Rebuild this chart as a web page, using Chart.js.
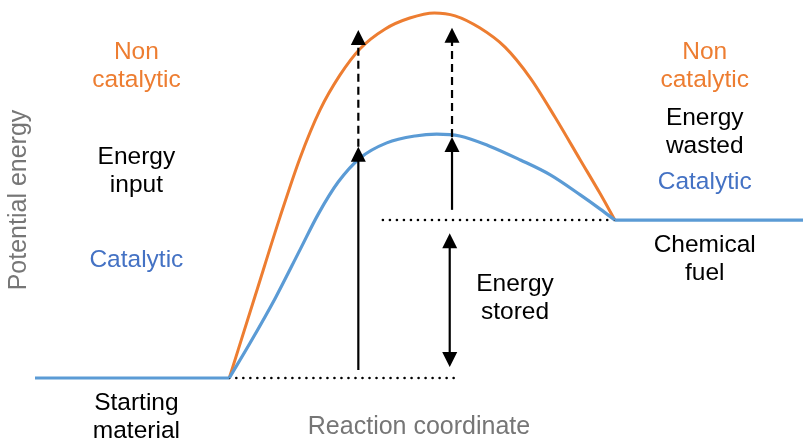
<!DOCTYPE html>
<html><head><meta charset="utf-8">
<script src="https://cdn.jsdelivr.net/npm/chart.js@4.4.1/dist/chart.umd.min.js"></script>
<style>html,body{margin:0;padding:0;background:#fff;overflow:hidden}#wrap{width:803px;height:440px;position:relative}</style>
</head><body><div id="wrap"><canvas id="c"></canvas></div>
<script>
// ---- data (reaction coordinate 0..100, potential energy in relative units) ----
const startLevel = 0;          // starting material energy
const fuelLevel = 43.4;        // chemical fuel energy
const reactionStartX = 25.3;
const reactionEndX = 75.5;
const coordEnd = 100;

const catalyticX = [25.3, 28.0, 31.3, 34.5, 36.9, 39.5, 42.3, 45.8, 49.5, 52.3, 55.3, 59.2, 63.2, 67.1, 71.0, 73.6, 75.5];
const catalyticE = [0.0, 9.6, 22.0, 35.2, 45.1, 53.9, 60.4, 64.6, 66.5, 67.0, 66.5, 63.7, 59.9, 55.8, 50.3, 46.4, 43.4];

const nonCatalyticX = [25.3, 28.7, 31.9, 34.5, 37.1, 39.7, 42.3, 45.6, 48.8, 52.0, 54.7, 57.9, 61.2, 64.5, 67.7, 71.0, 73.6, 75.5];
const nonCatalyticE = [0.0, 22.8, 44.2, 60.4, 73.6, 83.2, 90.4, 95.9, 98.9, 100.3, 99.5, 96.2, 90.9, 82.4, 71.7, 59.9, 50.6, 43.4];

const storedLineEndX = 55.3;   // dotted guide at starting level ends here
const fuelLineStartX = 45.3;   // dotted guide at fuel level starts here

// arrows: x, solid from -> to, dashed from -> to
const inputArrowX = 42.1, inputSolid = [2.2, 63.5], inputDashed = [63.5, 95.6];
const wastedArrowX = 54.3, wastedSolid = [46.2, 66.2], wastedDashed = [66.2, 96.2];
const storedArrowX = 54.0, storedRange = [3.0, 39.8];

// text labels
const labelLines = [["Non","catalytic"],["Energy","input"],["Catalytic"],["Starting","material"],
                    ["Non","catalytic"],["Energy","wasted"],["Catalytic"],["Chemical","fuel"],["Energy","stored"]];
const labelX = [13.2, 13.2, 13.2, 13.2, 87.2, 87.2, 87.2, 87.2, 62.5];
const labelY = [89.6, 60.7, 32.4, -6.9, 89.6, 71.4, 53.8, 36.5, 25.8];
const labelKind = ["non","plain","cat","plain","non","plain","cat","plain","plain"];

// ---- styles ----
const ORANGE = '#ED7D31', BLUE = '#5B9BD5', BLUE_TXT = '#4472C4', GRAY = '#767676';
const FONT = '"Liberation Sans", Arial, sans-serif';
const kindColor = {non: ORANGE, cat: BLUE_TXT, plain: '#000'};

const pts = (xs, ys) => xs.map((x, i) => ({x, y: ys[i]}));

const arrowPlugin = {
  id: 'annot',
  afterDatasetsDraw(chart) {
    const {ctx, scales: {x, y}} = chart;
    const X = v => x.getPixelForValue(v), Y = v => y.getPixelForValue(v);
    const HL = 15, HW = 7.5;
    ctx.save();
    ctx.strokeStyle = '#000'; ctx.fillStyle = '#000'; ctx.lineWidth = 2.2;
    function head(px, tip, dir) { // dir -1 up, +1 down
      ctx.beginPath();
      ctx.moveTo(px, tip);
      ctx.lineTo(px - HW, tip - dir * HL);
      ctx.lineTo(px + HW, tip - dir * HL);
      ctx.closePath(); ctx.fill();
    }
    function line(px, a, b, dash) {
      ctx.setLineDash(dash || []);
      ctx.beginPath(); ctx.moveTo(px, a); ctx.lineTo(px, b); ctx.stroke();
      ctx.setLineDash([]);
    }
    // energy input arrow
    let px = X(inputArrowX);
    line(px, Y(inputSolid[0]), Y(inputSolid[1]) + HL - 1);
    head(px, Y(inputSolid[1]), -1);
    line(px, Y(inputDashed[0]), Y(inputDashed[1]) + HL - 1, [8, 5]);
    head(px, Y(inputDashed[1]), -1);
    // energy wasted arrow
    px = X(wastedArrowX);
    line(px, Y(wastedSolid[0]), Y(wastedSolid[1]) + HL - 1);
    head(px, Y(wastedSolid[1]), -1);
    line(px, Y(wastedDashed[0]), Y(wastedDashed[1]) + HL - 1, [8, 5]);
    head(px, Y(wastedDashed[1]), -1);
    // energy stored double arrow
    px = X(storedArrowX);
    line(px, Y(storedRange[0]) - HL + 1, Y(storedRange[1]) + HL - 1);
    head(px, Y(storedRange[1]), -1);
    head(px, Y(storedRange[0]), 1);
    // labels
    ctx.font = '24.5px ' + FONT;
    ctx.textAlign = 'center'; ctx.textBaseline = 'middle';
    labelLines.forEach((lines, i) => {
      ctx.fillStyle = kindColor[labelKind[i]];
      const cx = X(labelX[i]), cy = Y(labelY[i]);
      lines.forEach((t, j) => ctx.fillText(t, cx, cy + j * 28));
    });
    ctx.restore();
  }
};

const lineDs = (data, color, width, extra) => Object.assign({
  data, borderColor: color, borderWidth: width, pointRadius: 0, fill: false,
  tension: 0, cubicInterpolationMode: 'default', borderCapStyle: 'butt'
}, extra || {});

new Chart(document.getElementById('c'), {
  type: 'line',
  data: {
    datasets: [
      lineDs(pts(catalyticX, catalyticE), BLUE, 3.2, {cubicInterpolationMode: 'monotone'}),
      lineDs([{x: 0, y: startLevel}, {x: reactionStartX, y: startLevel}], BLUE, 3.2),
      lineDs([{x: reactionEndX, y: fuelLevel}, {x: coordEnd, y: fuelLevel}], BLUE, 3.2),
      lineDs(pts(nonCatalyticX, nonCatalyticE), ORANGE, 3, {cubicInterpolationMode: 'monotone'}),
      lineDs([{x: reactionStartX, y: startLevel}, {x: storedLineEndX, y: startLevel}], '#000', 2.6, {borderDash: [0.01, 7], borderCapStyle: 'round'}),
      lineDs([{x: fuelLineStartX, y: fuelLevel}, {x: reactionEndX, y: fuelLevel}], '#000', 2.6, {borderDash: [0.01, 7], borderCapStyle: 'round'})
    ]
  },
  options: {
    responsive: true, maintainAspectRatio: false, animation: false,
    events: [],
    layout: {padding: 0},
    plugins: {legend: {display: false}, tooltip: {enabled: false}},
    scales: {
      x: {type: 'linear', min: 0, max: 100,
          ticks: {display: false}, grid: {display: false, drawTicks: false, tickLength: 0}, border: {display: false},
          title: {display: true, text: 'Reaction coordinate', color: GRAY,
                  font: {family: FONT, size: 25, lineHeight: 1}, padding: {top: 15, bottom: 0}}},
      y: {type: 'linear', min: -6.04, max: 103.85,
          ticks: {display: false}, grid: {display: false, drawTicks: false, tickLength: 0}, border: {display: false},
          title: {display: true, text: 'Potential energy', color: GRAY,
                  font: {family: FONT, size: 25, lineHeight: 1}, padding: {top: 7, bottom: 3}}}
    }
  },
  plugins: [arrowPlugin]
});
</script></body></html>
